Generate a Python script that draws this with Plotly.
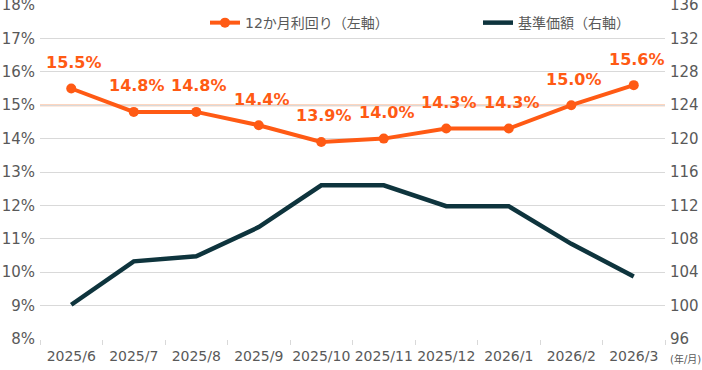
import plotly.graph_objects as go

months = ["2025/6", "2025/7", "2025/8", "2025/9", "2025/10", "2025/11",
          "2025/12", "2026/1", "2026/2", "2026/3"]
yield_12m = [15.5, 14.8, 14.8, 14.4, 13.9, 14.0, 14.3, 14.3, 15.0, 15.6]
nav = [100.1, 105.3, 105.9, 109.4, 114.4, 114.4, 111.9, 111.9, 107.4, 103.5]

left_ticks = list(range(8, 19))
left_tick_text = [f"{v}%" for v in left_ticks]
right_ticks = list(range(96, 137, 4))

ORANGE = "#FF5A14"
DARK = "#0E343D"
GRAY = "#595959"
FONT = "DejaVu Sans, Verdana, Noto Sans CJK JP, sans-serif"

fig = go.Figure()
fig.add_trace(go.Scatter(
    x=months, y=yield_12m, name="12か月利回り（左軸）",
    mode="lines+markers", line=dict(color=ORANGE, width=4),
    marker=dict(color=ORANGE, size=10), yaxis="y", cliponaxis=False))
fig.add_trace(go.Scatter(
    x=months, y=nav, name="基準価額（右軸）",
    mode="lines", line=dict(color=DARK, width=4.5), yaxis="y2"))

annotations = []
for m, v in zip(months, yield_12m):
    annotations.append(dict(
        x=m, y=v, xref="x", yref="y", text=f"{v:.1f}%", showarrow=False,
        yshift=26, xshift=3,
        font=dict(family=FONT, size=16, color=ORANGE, weight="bold")))
annotations.append(dict(
    x=1.06, xref="paper", y=-0.06, yref="paper", text="(年/月)",
    showarrow=False, xanchor="right", yanchor="middle",
    font=dict(family=FONT, size=10, color=GRAY)))

fig.update_layout(
    width=702, height=370,
    margin=dict(l=40, r=37, t=5, b=31, autoexpand=False),
    paper_bgcolor="white", plot_bgcolor="white",
    font=dict(family=FONT, color=GRAY, size=14),
    showlegend=True,
    legend=dict(orientation="h", x=0.264, xanchor="left", y=0.946,
                yanchor="middle", bgcolor="rgba(0,0,0,0)",
                font=dict(size=14, color=GRAY), entrywidth=228),
    xaxis=dict(type="category", range=[-0.5, 9.5], tickson="boundaries",
               ticks="outside", ticklen=5, tickcolor="#D9D9D9",
               tickangle=0, automargin=False, ticklabelstandoff=7,
               showgrid=False, showline=False, zeroline=False,
               tickfont=dict(size=14, color=GRAY)),
    yaxis=dict(range=[8, 18], tickvals=left_ticks, ticktext=left_tick_text,
               showgrid=True, gridcolor="#D9D9D9", gridwidth=1.3,
               zeroline=False, showline=False, ticks="", automargin=False,
               ticklabeloverflow="allow",
               tickfont=dict(size=15, color=GRAY), ticklabelstandoff=4),
    yaxis2=dict(range=[96, 136], tickvals=right_ticks, overlaying="y",
                side="right", showgrid=False, zeroline=False, showline=False,
                ticks="", automargin=False, ticklabeloverflow="allow",
                tickfont=dict(size=15, color=GRAY), ticklabelstandoff=4),
    shapes=[dict(type="line", xref="paper", x0=0, x1=1, yref="y", y0=15,
                 y1=15, line=dict(color="#FDD6C0", width=2.5), layer="below")],
    annotations=annotations,
)

fig.write_html("out.html", config={"displayModeBar": False},
               post_script="document.body.style.margin='0';"
                           "document.body.style.overflow='hidden';")
